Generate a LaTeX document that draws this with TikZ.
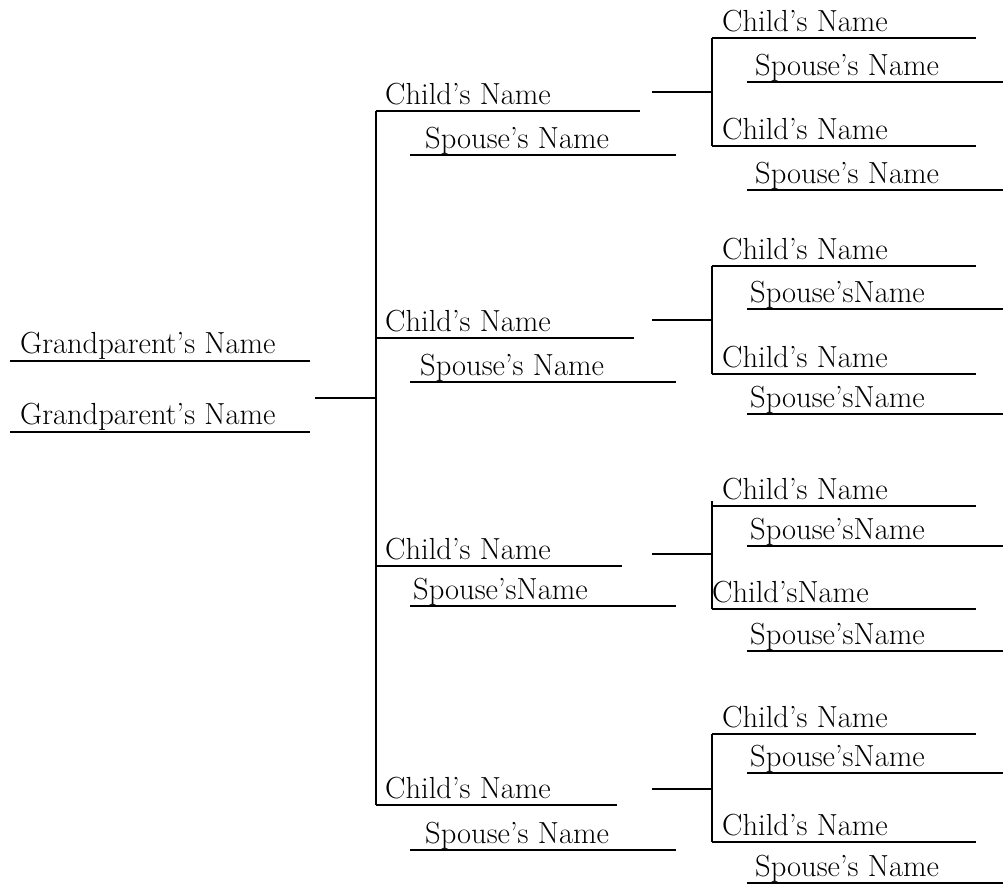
\documentclass[tikz,border=0pt]{standalone}
\usepackage{tikz}
\tikzstyle{entry} = [anchor=base west, inner sep=0pt, font=\fontsize{30.5}{36}\selectfont]
\tikzstyle{rule} = [line width=2.2pt]
\tikzstyle{branch} = [line width=2.2pt]

\begin{document}
\begin{tikzpicture}[x=1pt,y=-1pt]
		\useasboundingbox (0,0) rectangle (1003,886);
		% grandparents
		\node (gp1) [entry] at (20,353) {Grandparent's Name};
		\node (gp2) [entry] at (20,424) {Grandparent's Name};
		\coordinate (gp1w) at (10,361); \coordinate (gp1e) at (310,361);
		\coordinate (gp2w) at (10,432); \coordinate (gp2e) at (310,432);
		\coordinate (gpj) at (315,398); \coordinate (trunk) at (376,398);
		
		% first child
		\node (c1) [entry] at (385,104) {Child's Name};
		\node (s1) [entry] at (425,148) {Spouse's Name};
		\node (c1a) [entry] at (722,31) {Child's Name};
		\node (s1a) [entry] at (755,75) {Spouse's Name};
		\node (c1b) [entry] at (722,139) {Child's Name};
		\node (s1b) [entry] at (755,183) {Spouse's Name};
		\coordinate (c1w) at (376,111); \coordinate (c1e) at (640,111);
		\coordinate (s1w) at (410,155); \coordinate (s1e) at (676,155);
		\coordinate (j1) at (652,92); \coordinate (k1) at (712,92);
		\coordinate (c1aw) at (712,38); \coordinate (c1ae) at (976,38);
		\coordinate (s1aw) at (747,82); \coordinate (s1ae) at (1003,82);
		\coordinate (c1bw) at (712,146); \coordinate (c1be) at (976,146);
		\coordinate (s1bw) at (747,190); \coordinate (s1be) at (1003,190);
		
		% second child
		\node (c2) [entry] at (385,331) {Child's Name};
		\node (s2) [entry] at (420,375) {Spouse's Name};
		\node (c2a) [entry] at (722,259) {Child's Name};
		\node (s2a) [entry] at (750,302) {Spouse'sName};
		\node (c2b) [entry] at (722,367) {Child's Name};
		\node (s2b) [entry] at (750,407) {Spouse'sName};
		\coordinate (c2w) at (376,338); \coordinate (c2e) at (634,338);
		\coordinate (s2w) at (410,382); \coordinate (s2e) at (676,382);
		\coordinate (j2) at (652,320); \coordinate (k2) at (712,320);
		\coordinate (c2aw) at (712,266); \coordinate (c2ae) at (976,266);
		\coordinate (s2aw) at (747,309); \coordinate (s2ae) at (1003,309);
		\coordinate (c2bw) at (712,374); \coordinate (c2be) at (976,374);
		\coordinate (s2bw) at (747,414); \coordinate (s2be) at (1003,414);
		
		% third child
		\node (c3) [entry] at (385,559) {Child's Name};
		\node (s3) [entry] at (413,599) {Spouse'sName};
		\node (c3a) [entry] at (722,499) {Child's Name};
		\node (s3a) [entry] at (750,539) {Spouse'sName};
		\node (c3b) [entry] at (712,602) {Child'sName};
		\node (s3b) [entry] at (750,644) {Spouse'sName};
		\coordinate (c3w) at (376,566); \coordinate (c3e) at (622,566);
		\coordinate (s3w) at (410,606); \coordinate (s3e) at (676,606);
		\coordinate (j3) at (652,554); \coordinate (k3) at (712,554);
		\coordinate (v3) at (712,501);
		\coordinate (c3aw) at (712,506); \coordinate (c3ae) at (976,506);
		\coordinate (s3aw) at (747,546); \coordinate (s3ae) at (1003,546);
		\coordinate (c3bw) at (712,609); \coordinate (c3be) at (976,609);
		\coordinate (s3bw) at (747,651); \coordinate (s3be) at (1003,651);
		
		% fourth child
		\node (c4) [entry] at (385,798) {Child's Name};
		\node (s4) [entry] at (425,843) {Spouse's Name};
		\node (c4a) [entry] at (722,727) {Child's Name};
		\node (s4a) [entry] at (750,766) {Spouse'sName};
		\node (c4b) [entry] at (722,835) {Child's Name};
		\node (s4b) [entry] at (755,876) {Spouse's Name};
		\coordinate (c4w) at (376,805); \coordinate (c4e) at (617,805);
		\coordinate (s4w) at (410,850); \coordinate (s4e) at (676,850);
		\coordinate (j4) at (652,789); \coordinate (k4) at (712,789);
		\coordinate (c4aw) at (712,734); \coordinate (c4ae) at (976,734);
		\coordinate (s4aw) at (747,773); \coordinate (s4ae) at (1003,773);
		\coordinate (c4bw) at (712,842); \coordinate (c4be) at (976,842);
		\coordinate (s4bw) at (747,883); \coordinate (s4be) at (1003,883);
		
		% name lines
		\draw [rule] (gp1w) -- (gp1e);
		\draw [rule] (gp2w) -- (gp2e);
		\draw [rule] (c1w) -- (c1e); \draw [rule] (s1w) -- (s1e);
		\draw [rule] (c1aw) -- (c1ae); \draw [rule] (s1aw) -- (s1ae);
		\draw [rule] (c1bw) -- (c1be); \draw [rule] (s1bw) -- (s1be);
		\draw [rule] (c2w) -- (c2e); \draw [rule] (s2w) -- (s2e);
		\draw [rule] (c2aw) -- (c2ae); \draw [rule] (s2aw) -- (s2ae);
		\draw [rule] (c2bw) -- (c2be); \draw [rule] (s2bw) -- (s2be);
		\draw [rule] (c3w) -- (c3e); \draw [rule] (s3w) -- (s3e);
		\draw [rule] (c3aw) -- (c3ae); \draw [rule] (s3aw) -- (s3ae);
		\draw [rule] (c3bw) -- (c3be); \draw [rule] (s3bw) -- (s3be);
		\draw [rule] (c4w) -- (c4e); \draw [rule] (s4w) -- (s4e);
		\draw [rule] (c4aw) -- (c4ae); \draw [rule] (s4aw) -- (s4ae);
		\draw [rule] (c4bw) -- (c4be); \draw [rule] (s4bw) -- (s4be);
		
		% branches
		\draw [branch] (gpj) -- (trunk);
		\draw [branch] (c1w) -- (c4w);
		\draw [branch] (j1) -- (k1);
		\draw [branch] (c1aw) -- (c1bw);
		\draw [branch] (j2) -- (k2);
		\draw [branch] (c2aw) -- (c2bw);
		\draw [branch] (j3) -- (k3);
		\draw [branch] (v3) -- (c3bw);
		\draw [branch] (j4) -- (k4);
		\draw [branch] (c4aw) -- (c4bw);
		\end{tikzpicture}
\end{document}
